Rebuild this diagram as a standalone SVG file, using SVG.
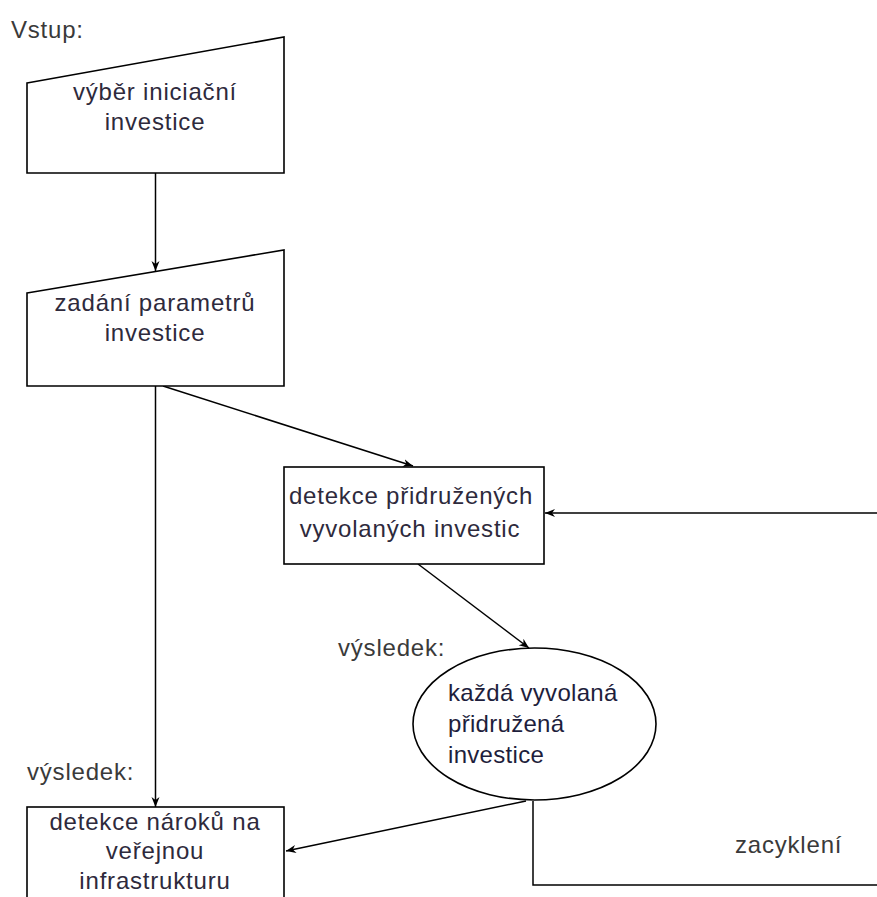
<svg xmlns="http://www.w3.org/2000/svg" width="877" height="897" viewBox="0 0 877 897">
<style>
.shape{fill:#fff;stroke:#000;stroke-width:1.6}
.conn{fill:none;stroke:#000;stroke-width:1.5}
.lbl{font-family:"Liberation Sans",Arial,sans-serif;font-size:24px;letter-spacing:0.8px;fill:#3a3a3a}
.txt{font-family:"Liberation Sans",Arial,sans-serif;font-size:24px;letter-spacing:0.8px;fill:#2e2a3c;text-anchor:middle}
.etxt{font-family:"Liberation Sans",Arial,sans-serif;font-size:24px;letter-spacing:0.3px;fill:#1e1e3c}
</style>
<defs>
<marker id="arr" viewBox="0 0 10 10" refX="10" refY="5" markerWidth="10" markerHeight="10" markerUnits="userSpaceOnUse" orient="auto">
<path d="M0,1 L10,5 L0,9 L3,5 Z" fill="#000"/>
</marker>
</defs>
<rect width="877" height="897" fill="#fff"/>
<text class="lbl" x="11" y="38">Vstup:</text>
<text class="lbl" x="338" y="656">výsledek:</text>
<text class="lbl" x="27" y="780">výsledek:</text>
<text class="lbl" x="735" y="853">zacyklení</text>
<g id="connectors">
<line class="conn" x1="155.5" y1="173" x2="155.5" y2="271" marker-end="url(#arr)"/>
<line class="conn" x1="163" y1="386" x2="413" y2="466" marker-end="url(#arr)"/>
<line class="conn" x1="155.5" y1="386" x2="155.5" y2="807" marker-end="url(#arr)"/>
<line class="conn" x1="877" y1="513" x2="545" y2="513" marker-end="url(#arr)"/>
<line class="conn" x1="418" y1="564" x2="529" y2="648" marker-end="url(#arr)"/>
<line class="conn" x1="526" y1="801" x2="286" y2="851" marker-end="url(#arr)"/>
<polyline class="conn" points="533,801 533,885 877,885"/>
</g>
<g id="n1">
<polygon class="shape" points="27,83 284,37 284,173 27,173"/>
<text class="txt" x="155" y="100">výběr iniciační</text>
<text class="txt" x="155" y="130">investice</text>
</g>
<g id="n2">
<polygon class="shape" points="27,293 284,250 284,386 27,386"/>
<text class="txt" x="155" y="311">zadání parametrů</text>
<text class="txt" x="155" y="341">investice</text>
</g>
<g id="n3">
<rect class="shape" x="284" y="467" width="260" height="97"/>
<text class="txt" x="411" y="504">detekce přidružených</text>
<text class="txt" x="410" y="537">vyvolaných investic</text>
</g>
<g id="n4">
<ellipse class="shape" cx="534.5" cy="724" rx="121.5" ry="76"/>
<text class="etxt" x="448" y="701">každá vyvolaná</text>
<text class="etxt" x="448" y="732">přidružená</text>
<text class="etxt" x="448" y="763">investice</text>
</g>
<g id="n5">
<rect class="shape" x="27" y="807" width="257" height="110"/>
<text class="txt" x="155" y="830">detekce nároků na</text>
<text class="txt" x="155" y="859">veřejnou</text>
<text class="txt" x="155" y="889">infrastrukturu</text>
</g>
</svg>
